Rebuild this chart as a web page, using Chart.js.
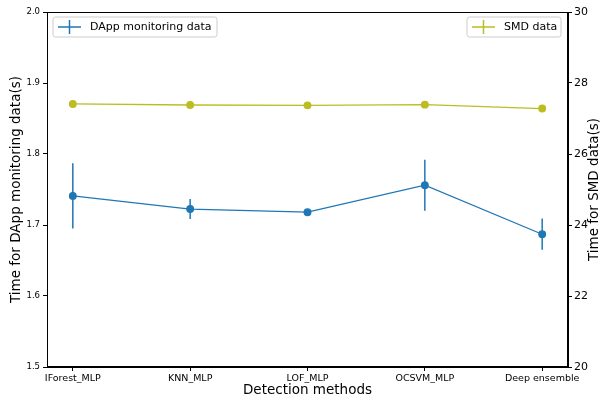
<!DOCTYPE html>
<html>
<head>
<meta charset="utf-8">
<script src="https://cdn.jsdelivr.net/npm/chart.js@4/dist/chart.umd.min.js"></script>
<style>
  html, body { margin: 0; padding: 0; background: #fff; }
  #wrap { width: 601px; height: 398px; }
</style>
</head>
<body>
<div id="wrap"><canvas id="c" width="601" height="398"></canvas></div>
<script>
const categories = ["IForest_MLP", "KNN_MLP", "LOF_MLP", "OCSVM_MLP", "Deep ensemble"];
const dappValues = [1.741, 1.7225, 1.718, 1.756, 1.687];
const dappErrors = [0.046, 0.014, 0.002, 0.036, 0.022];
const smdValues = [27.41, 27.38, 27.37, 27.39, 27.28];
const smdErrors = [0.02, 0.02, 0.02, 0.02, 0.02];
const leftTicks = [1.5, 1.6, 1.7, 1.8, 1.9, 2.0];
const rightTicks = [20, 22, 24, 26, 28, 30];

const BLUE = '#1f77b4';
const OLIVE = '#bcbd22';
const FONT = 'DejaVu Sans';

const errorBarPlugin = {
  id: 'errorBars',
  beforeDatasetsDraw(chart) {
    const ctx = chart.ctx;
    const xs = chart.scales.x;
    chart.data.datasets.forEach((ds) => {
      const ys = chart.scales[ds.yAxisID];
      ctx.save();
      ctx.strokeStyle = ds.borderColor;
      ctx.lineWidth = 1.5;
      ds.errors.forEach((e, i) => {
        const px = xs.getPixelForValue(i);
        const y1 = ys.getPixelForValue(ds.values[i] - e);
        const y2 = ys.getPixelForValue(ds.values[i] + e);
        ctx.beginPath();
        ctx.moveTo(px, y1);
        ctx.lineTo(px, y2);
        ctx.stroke();
      });
      ctx.restore();
    });
  }
};

function drawLegend(ctx, x, y, w, h, color, label) {
  ctx.save();
  ctx.fillStyle = 'rgba(255,255,255,0.8)';
  ctx.strokeStyle = '#cccccc';
  ctx.lineWidth = 1;
  const r = 2.5;
  ctx.beginPath();
  ctx.moveTo(x + r, y);
  ctx.lineTo(x + w - r, y);
  ctx.quadraticCurveTo(x + w, y, x + w, y + r);
  ctx.lineTo(x + w, y + h - r);
  ctx.quadraticCurveTo(x + w, y + h, x + w - r, y + h);
  ctx.lineTo(x + r, y + h);
  ctx.quadraticCurveTo(x, y + h, x, y + h - r);
  ctx.lineTo(x, y + r);
  ctx.quadraticCurveTo(x, y, x + r, y);
  ctx.closePath();
  ctx.fill();
  ctx.stroke();
  const cy = y + h / 2;
  ctx.strokeStyle = color;
  ctx.lineWidth = 1.5;
  ctx.beginPath();
  ctx.moveTo(x + 5, cy);
  ctx.lineTo(x + 28, cy);
  ctx.moveTo(x + 16.5, cy - 7);
  ctx.lineTo(x + 16.5, cy + 7);
  ctx.stroke();
  ctx.fillStyle = '#000';
  ctx.font = '11px "' + FONT + '"';
  ctx.textBaseline = 'middle';
  ctx.textAlign = 'left';
  ctx.fillText(label, x + 37, cy + 0.5);
  ctx.restore();
}

const framePlugin = {
  id: 'frame',
  afterDraw(chart) {
    const ctx = chart.ctx;
    const a = chart.chartArea;
    ctx.save();
    ctx.strokeStyle = '#000';
    ctx.lineWidth = 1;
    ctx.strokeRect(Math.round(a.left) + 0.5, Math.round(a.top) + 0.5,
                   Math.round(a.right - a.left) - 1, Math.round(a.bottom - a.top) - 1);
    // axis titles
    ctx.fillStyle = '#000';
    ctx.font = '13.5px "' + FONT + '"';
    ctx.textAlign = 'center';
    ctx.textBaseline = 'middle';
    ctx.fillText('Detection methods', (a.left + a.right) / 2, 390);
    const cy = (a.top + a.bottom) / 2;
    ctx.save();
    ctx.translate(16, cy);
    ctx.rotate(-Math.PI / 2);
    ctx.fillText('Time for DApp monitoring data(s)', 0, 0);
    ctx.restore();
    ctx.save();
    ctx.translate(594, cy);
    ctx.rotate(-Math.PI / 2);
    ctx.fillText('Time for SMD data(s)', 0, 0);
    ctx.restore();
    ctx.restore();
    drawLegend(ctx, a.left + 6, a.top + 5, 164, 20, BLUE, chart.data.datasets[0].label);
    drawLegend(ctx, a.right - 101, a.top + 5, 94, 20, OLIVE, chart.data.datasets[1].label);
  }
};

const ctx = document.getElementById('c').getContext('2d');
new Chart(ctx, {
  type: 'line',
  data: {
    datasets: [
      {
        label: 'DApp monitoring data',
        yAxisID: 'y',
        values: dappValues,
        errors: dappErrors,
        data: dappValues.map((v, i) => ({ x: i, y: v })),
        borderColor: BLUE,
        backgroundColor: BLUE,
        borderWidth: 1.3,
        pointRadius: 3.3,
        pointHoverRadius: 3.3,
        tension: 0
      },
      {
        label: 'SMD data',
        yAxisID: 'y2',
        values: smdValues,
        errors: smdErrors,
        data: smdValues.map((v, i) => ({ x: i, y: v })),
        borderColor: OLIVE,
        backgroundColor: OLIVE,
        borderWidth: 1.3,
        pointRadius: 3.3,
        pointHoverRadius: 3.3,
        tension: 0
      }
    ]
  },
  options: {
    responsive: false,
    animation: false,
    devicePixelRatio: 1,
    layout: { padding: { top: 12, left: 0, right: 0, bottom: 0 } },
    plugins: { legend: { display: false }, tooltip: { enabled: false } },
    scales: {
      x: {
        type: 'linear',
        min: -0.22,
        max: 4.22,
        afterBuildTicks(axis) { axis.ticks = categories.map((c, i) => ({ value: i })); },
        afterFit(axis) { axis.height = 31; },
        ticks: {
          autoSkip: false,
          maxRotation: 0,
          padding: 2,
          color: '#000',
          font: { family: FONT, size: 9.5 },
          callback: (v) => categories[v]
        },
        grid: { drawOnChartArea: false, drawTicks: true, tickLength: 4, color: '#000' },
        border: { display: true, color: '#000' }
      },
      y: {
        position: 'left',
        min: 1.5,
        max: 2.0,
        afterBuildTicks(axis) { axis.ticks = leftTicks.map(v => ({ value: v })); },
        afterFit(axis) { axis.width = 47; },
        ticks: {
          padding: 3,
          color: '#000',
          font: { family: FONT, size: 8.5 },
          callback: (v) => v.toFixed(1)
        },
        grid: { drawOnChartArea: false, drawTicks: true, tickLength: 4, color: '#000' },
        border: { display: true, color: '#000' }
      },
      y2: {
        position: 'right',
        min: 20,
        max: 30,
        afterBuildTicks(axis) { axis.ticks = rightTicks.map(v => ({ value: v })); },
        afterFit(axis) { axis.width = 33; },
        ticks: {
          padding: 2,
          color: '#000',
          font: { family: FONT, size: 11 },
          callback: (v) => String(v)
        },
        grid: { drawOnChartArea: false, drawTicks: true, tickLength: 4, color: '#000' },
        border: { display: true, color: '#000' }
      }
    }
  },
  plugins: [errorBarPlugin, framePlugin]
});
</script>
</body>
</html>
